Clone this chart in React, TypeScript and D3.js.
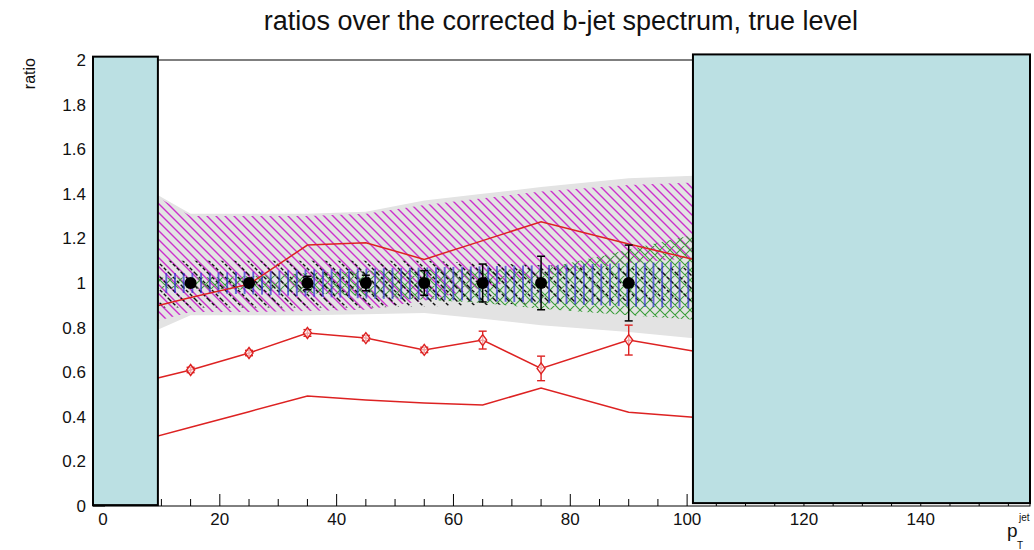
import React from "react";
import * as d3 from "d3";

const W = 1034;
const H = 550;

// band / line abscissae (bin centres)
const bandX = [5, 15, 25, 35, 45, 55, 65, 75, 90, 110];

const grayLo = [0.74, 0.855, 0.855, 0.855, 0.86, 0.865, 0.84, 0.81, 0.78, 0.73];
const grayHi = [1.46, 1.31, 1.31, 1.31, 1.32, 1.37, 1.4, 1.43, 1.47, 1.49];
const magLo = [0.8, 0.87, 0.87, 0.875, 0.88, 0.92, 0.98, 1.03, 1.09, 1.13];
const magHi = [1.45, 1.3, 1.3, 1.3, 1.31, 1.35, 1.38, 1.41, 1.44, 1.46];
const blkLo = [0.89, 0.89, 0.89, 0.89, 0.89, 0.895, 0.9, 0.91, 0.92, 0.92];
const blkHi = [1.1, 1.1, 1.1, 1.1, 1.1, 1.1, 1.09, 1.08, 1.07, 1.07];
const bluLo = [0.955, 0.955, 0.95, 0.94, 0.93, 0.925, 0.92, 0.91, 0.895, 0.88];
const bluHi = [1.045, 1.045, 1.05, 1.06, 1.065, 1.07, 1.075, 1.08, 1.09, 1.1];
const grnLo = [0.975, 0.975, 0.97, 0.955, 0.94, 0.925, 0.91, 0.885, 0.855, 0.82];
const grnHi = [1.025, 1.025, 1.03, 1.045, 1.055, 1.06, 1.06, 1.06, 1.15, 1.27];

// red curves
const redMarkY = [0.546, 0.61, 0.686, 0.776, 0.753, 0.7, 0.744, 0.617, 0.744, 0.655];
const redMarkErr = [0.012, 0.012, 0.012, 0.015, 0.012, 0.012, 0.04, 0.055, 0.067, 0.05];
const redUpY = [0.87, 0.935, 0.995, 1.17, 1.18, 1.106, 1.19, 1.275, 1.175, 1.05];
const redLoY = [0.283, 0.353, 0.423, 0.493, 0.475, 0.462, 0.453, 0.529, 0.42, 0.38];

// black data points
const dataX = [15, 25, 35, 45, 55, 65, 75, 90];
const dataY = [1, 1, 1, 1, 1, 1, 1, 1];
const dataErr = [0.01, 0.015, 0.03, 0.035, 0.055, 0.085, 0.12, 0.17];

// axis
const xDomain = [-1.71, 158.7];
const yDomain = [0, 2];
const xMajor = [0, 20, 40, 60, 80, 100, 120, 140];
const yMajor = [0, 0.2, 0.4, 0.6, 0.8, 1, 1.2, 1.4, 1.6, 1.8, 2];
const yLabels = ["0", "0.2", "0.4", "0.6", "0.8", "1", "1.2", "1.4", "1.6", "1.8", "2"];

// covering boxes (data units)
const boxes = [
  { x0: -1.71, x1: 9.4, y0: 0.004, y1: 2.015 },
  { x0: 101.0, x1: 158.7, y0: 0.013, y1: 2.025 },
];

const FONT = "'Liberation Sans', Arial, Helvetica, sans-serif";

export default function App() {
  const x = d3.scaleLinear().domain(xDomain).range([93, 1030]);
  const y = d3.scaleLinear().domain(yDomain).range([506, 60]);

  const band = (lo: number[], hi: number[]) =>
    d3
      .area<number>()
      .x((_, i) => x(bandX[i]))
      .y0((_, i) => y(lo[i]))
      .y1((_, i) => y(hi[i]))(bandX) || "";

  const line = (vals: number[]) =>
    d3
      .line<number>()
      .x((_, i) => x(bandX[i]))
      .y((v) => y(v))(vals) || "";

  const xMinor = d3.range(0, 160, 5).filter((v) => v % 20 !== 0);
  const yMinor = d3.range(0, 2.001, 0.05).filter((v) => Math.abs(v * 5 - Math.round(v * 5)) > 1e-6);

  const red = "#dd2222";

  return (
    <svg width={W} height={H} style={{ display: "block", position: "absolute", left: 0, top: 0, background: "#fff" }}>
      <defs>
        <clipPath id="frame">
          <rect x={93} y={60} width={937} height={446} />
        </clipPath>
        <pattern id="pMag" patternUnits="userSpaceOnUse" width={9} height={9}>
          <path d="M0,0 L9,9 M-1,8 L1,10 M8,-1 L10,1" stroke="#cc30cc" strokeWidth={1.4} />
        </pattern>
        <pattern id="pBlk" patternUnits="userSpaceOnUse" width={13} height={13}>
          <path d="M0,0 L13,13 M-2,11 L2,15 M11,-2 L15,2" stroke="#111" strokeWidth={1.4} strokeDasharray="3.5 2" />
        </pattern>
        <pattern id="pBlu" patternUnits="userSpaceOnUse" width={8.7} height={8}>
          <path d="M1,0 L1,8" stroke="#2a2ad0" strokeWidth={1.3} />
        </pattern>
        <pattern id="pGrn" patternUnits="userSpaceOnUse" width={10} height={10}>
          <path d="M0,0 L10,10 M0,10 L10,0 M-1,9 L1,11 M9,-1 L11,1 M-1,1 L1,-1 M9,11 L11,9" stroke="#3a9e3a" strokeWidth={1.1} />
        </pattern>
      </defs>

      {/* title */}
      <text x={561} y={30} textAnchor="middle" fontFamily={FONT} fontSize={27} fill="#111">
        ratios over the corrected b-jet spectrum, true level
      </text>

      {/* plot contents */}
      <g clipPath="url(#frame)">
        <path d={band(grayLo, grayHi)} fill="#e3e3e3" />
        <path d={band(magLo, magHi)} fill="url(#pMag)" />
        <path d={band(grnLo, grnHi)} fill="url(#pGrn)" />
        <path d={band(blkLo, blkHi)} fill="url(#pBlk)" />
        <path d={band(bluLo, bluHi)} fill="url(#pBlu)" />

        <path d={line(redUpY)} fill="none" stroke={red} strokeWidth={1.5} />
        <path d={line(redLoY)} fill="none" stroke={red} strokeWidth={1.5} />
        <path d={line(redMarkY)} fill="none" stroke={red} strokeWidth={1.5} />

        {bandX.map((xv, i) => {
          const cx = x(xv);
          const cy = y(redMarkY[i]);
          const t = y(redMarkY[i] + redMarkErr[i]);
          const b = y(redMarkY[i] - redMarkErr[i]);
          return (
            <g key={"r" + i} stroke={red} strokeWidth={1.4} fill="none">
              <line x1={cx} x2={cx} y1={t} y2={b} />
              <line x1={cx - 4} x2={cx + 4} y1={t} y2={t} />
              <line x1={cx - 4} x2={cx + 4} y1={b} y2={b} />
              <path d={`M${cx},${cy - 5.5} L${cx + 4},${cy} L${cx},${cy + 5.5} L${cx - 4},${cy} Z`} fill="#fff" fillOpacity={0.6} />
            </g>
          );
        })}

        {dataX.map((xv, i) => {
          const cx = x(xv);
          const cy = y(dataY[i]);
          const t = y(dataY[i] + dataErr[i]);
          const b = y(dataY[i] - dataErr[i]);
          return (
            <g key={"d" + i}>
              <line x1={cx} x2={cx} y1={t} y2={b} stroke="#000" strokeWidth={1.5} />
              <line x1={cx - 4} x2={cx + 4} y1={t} y2={t} stroke="#000" strokeWidth={1.5} />
              <line x1={cx - 4} x2={cx + 4} y1={b} y2={b} stroke="#000" strokeWidth={1.5} />
              <circle cx={cx} cy={cy} r={6} fill="#000" />
            </g>
          );
        })}
      </g>

      {/* frame and axes */}
      <rect x={93} y={60} width={937} height={446} fill="none" stroke="#000" strokeWidth={1} />
      {xMajor.map((v) => (
        <line key={"xM" + v} x1={x(v)} x2={x(v)} y1={506} y2={494} stroke="#000" strokeWidth={1} />
      ))}
      {xMinor.map((v) => (
        <line key={"xm" + v} x1={x(v)} x2={x(v)} y1={506} y2={499} stroke="#000" strokeWidth={1} />
      ))}
      {yMajor.map((v) => (
        <line key={"yM" + v} x1={93} x2={105} y1={y(v)} y2={y(v)} stroke="#000" strokeWidth={1} />
      ))}
      {yMinor.map((v, i) => (
        <line key={"ym" + i} x1={93} x2={99} y1={y(v)} y2={y(v)} stroke="#000" strokeWidth={1} />
      ))}

      {/* covering boxes */}
      {boxes.map((bx, i) => (
        <rect
          key={"b" + i}
          x={x(bx.x0)}
          y={y(bx.y1)}
          width={x(bx.x1) - x(bx.x0)}
          height={y(bx.y0) - y(bx.y1)}
          fill="#bbe0e3"
          stroke="#000"
          strokeWidth={2}
        />
      ))}

      {/* tick labels */}
      {xMajor.map((v) => (
        <text key={"xl" + v} x={x(v)} y={525} textAnchor="middle" fontFamily={FONT} fontSize={17} fill="#111">
          {v}
        </text>
      ))}
      {yMajor.map((v, i) => (
        <text key={"yl" + v} x={86} y={y(v)} dy="0.35em" textAnchor="end" fontFamily={FONT} fontSize={17} fill="#111">
          {yLabels[i]}
        </text>
      ))}

      {/* axis titles */}
      <text transform="translate(35,58) rotate(-90)" textAnchor="end" fontFamily={FONT} fontSize={16} fill="#111">
        ratio
      </text>
      <text x={1007} y={537} fontFamily={FONT} fontSize={19} fill="#111">
        p
      </text>
      <text x={1019} y={521} fontFamily={FONT} fontSize={10} fill="#111">
        jet
      </text>
      <text x={1017} y={549} fontFamily={FONT} fontSize={10} fill="#111">
        T
      </text>
    </svg>
  );
}
